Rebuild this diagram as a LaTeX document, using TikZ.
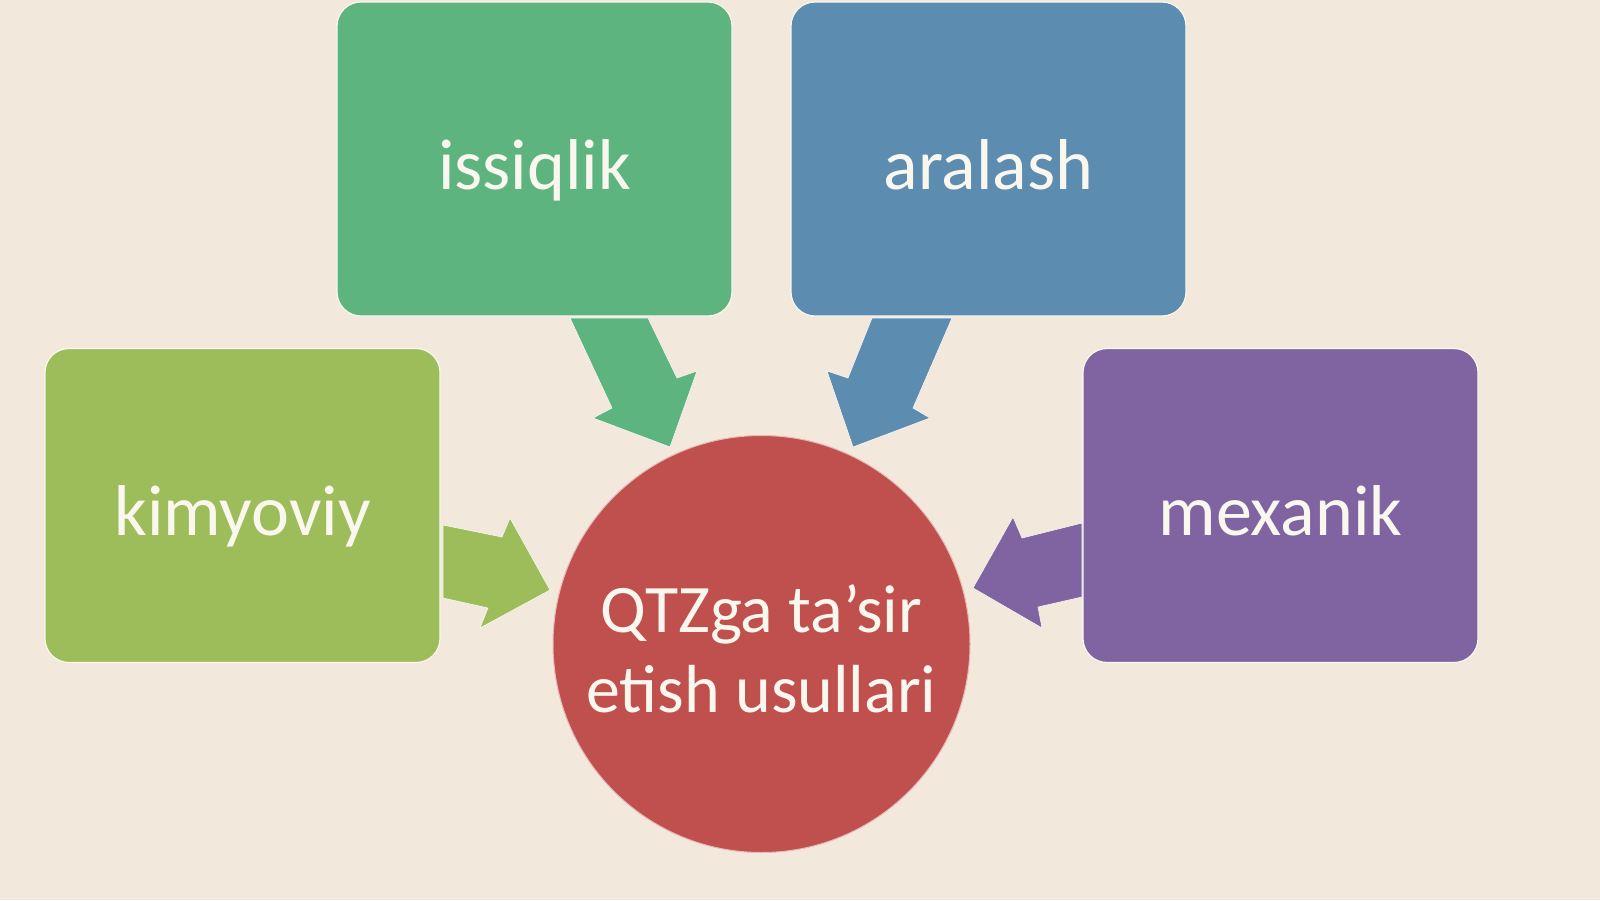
\documentclass[tikz,border=0pt]{standalone}
\usepackage{fontspec}
\setmainfont{Carlito}
\definecolor{bgc}{HTML}{F2E8DC}
\definecolor{cKim}{HTML}{9DBD5A}
\definecolor{cIss}{HTML}{5EB47E}
\definecolor{cAra}{HTML}{5C8CB0}
\definecolor{cMex}{HTML}{8064A2}
\definecolor{cRed}{HTML}{C0504D}
\definecolor{txt}{HTML}{FAF8EE}
\begin{document}
\begin{tikzpicture}[x=1pt,y=-1pt,
  boxnode/.style={draw=txt, line width=1.2pt, rounded corners=24pt,
    minimum width=395pt, minimum height=314pt, inner sep=0pt,
    text=txt, font=\fontsize{72}{80}\selectfont,
    text height=60pt, text depth=0pt},
  blockarrow/.style={draw=white!70!bgc, line width=0.6pt, line join=miter}]
\fill[bgc] (0,0) rectangle (1600,900);
\useasboundingbox (0,0) rectangle (1600,900);

\node[boxnode, fill=cIss] (iss) at (534.5,159) {issiqlik};
\node[boxnode, fill=cAra] (ara) at (988.5,159) {aralash};
\node[boxnode, fill=cKim] (kim) at (242.5,505.5) {kimyoviy};
\node[boxnode, fill=cMex] (mex) at (1280.5,505.5) {mexanik};

\node[circle, draw=white!60!cRed, line width=1pt, fill=cRed, minimum size=417pt, inner sep=0pt,
  text=txt, align=center, font=\fontsize{68}{80}\selectfont,
  text height=136pt, text depth=0pt] (c) at (761.5,644) {QTZga ta’sir\\etish usullari};

% block arrows
\filldraw[blockarrow, fill=cIss] (570,318) -- (648,318) -- (677,378) -- (697,371) -- (670,447) -- (593,418) -- (612,408) -- cycle;
\filldraw[blockarrow, fill=cAra] (872,318) -- (952,318) -- (913,408) -- (930,418) -- (853,447) -- (827,371) -- (848,378) -- cycle;
\filldraw[blockarrow, fill=cKim] (443,525) -- (502,537) -- (510,518) -- (550,590) -- (480,628) -- (488,608) -- (443,598) -- cycle;
\filldraw[blockarrow, fill=cMex] (1082,523) -- (1022,538) -- (1013,517) -- (973,588) -- (1042,628) -- (1038,607) -- (1082,597) -- cycle;
\end{tikzpicture}
\end{document}
